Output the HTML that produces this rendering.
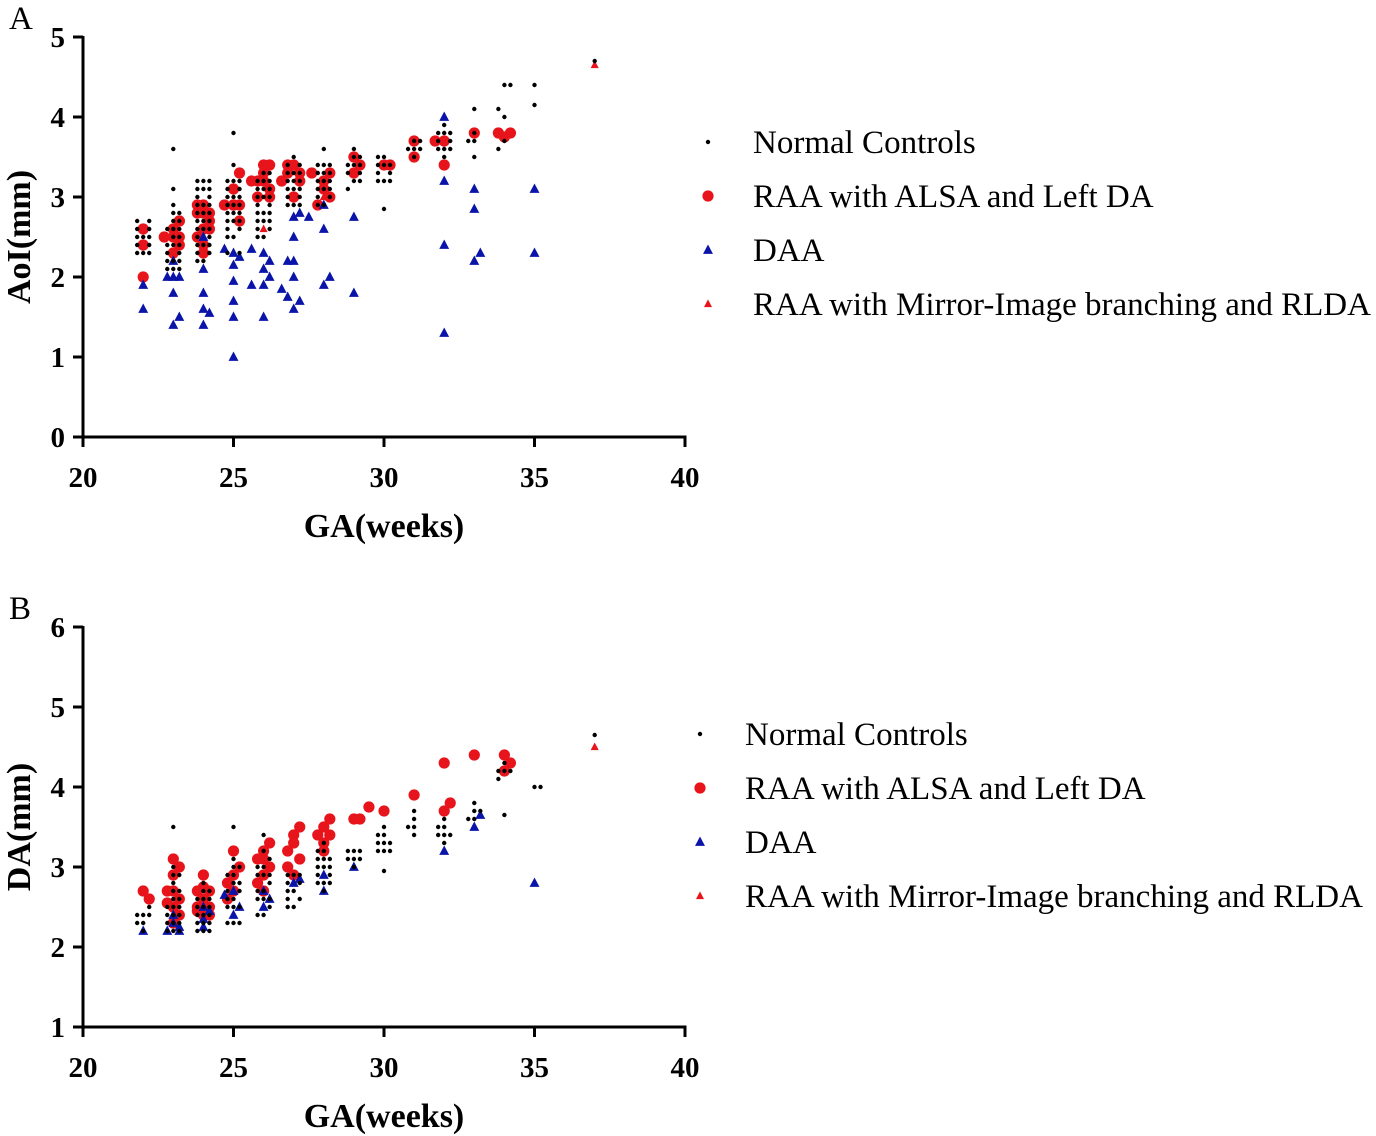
<!DOCTYPE html>
<html><head><meta charset="utf-8"><style>
html,body{margin:0;padding:0;background:#fff;}
svg{display:block;font-family:"Liberation Serif",serif;}
</style></head><body>
<svg id="chart" width="1376" height="1136" viewBox="0 0 1376 1136"></svg>
<script>
// ---------- data ----------
const xTicks=[20,25,30,35,40];
const aYTicks=[0,1,2,3,4,5];
const bYTicks=[1,2,3,4,5,6];
const legendLabels=["Normal Controls","RAA with ALSA and Left DA","DAA","RAA with Mirror-Image branching and RLDA"];
// Panel A
const aNormal=[[21.8,2.3],[22,2.3],[22.2,2.3],[21.8,2.4],[22.2,2.4],[21.8,2.5],[22,2.5],[22.2,2.5],[21.8,2.6],[22.2,2.6],[21.8,2.7],[22.2,2.7],
[22.8,2.2],[23,2.2],[23.2,2.2],[22.8,2.3],[23.2,2.3],[22.8,2.4],[23,2.4],[23.2,2.4],[23,2.5],[23.2,2.5],[22.8,2.6],[23,2.6],[23.2,2.6],[23,2.7],[23.2,2.7],[23,2.8],[23.2,2.8],[23,2.9],[23,3.1],[23,3.6],[23,2.1],[23.2,2.1],[22.8,2.1],
[23.8,2.2],[24,2.2],[23.8,2.3],[24.2,2.3],[23.8,2.4],[24,2.4],[24.2,2.4],[23.8,2.5],[24.2,2.5],[23.8,2.6],[24,2.6],[24.2,2.6],[23.8,2.7],[24,2.7],[24.2,2.7],[23.8,2.8],[24,2.8],[24.2,2.8],[23.8,2.9],[24,2.9],[24.2,2.9],[23.8,3.0],[24.2,3.0],[23.8,3.1],[24,3.1],[24.2,3.1],[23.8,3.2],[24,3.2],[24.2,3.2],
[24.8,2.3],[25.2,2.3],[24.8,2.5],[25,2.5],[24.8,2.6],[25.2,2.6],[24.8,2.7],[25,2.7],[25.2,2.7],[24.8,2.8],[25,2.8],[25.2,2.8],[24.8,2.9],[25,2.9],[25.2,2.9],[24.8,3.0],[25,3.0],[25.2,3.0],[24.8,3.1],[25.2,3.1],[24.8,3.2],[25,3.2],[25.2,3.2],[25,3.4],[25,3.8],
[25.8,2.5],[26,2.5],[25.8,2.6],[26.2,2.6],[25.8,2.7],[26,2.7],[26.2,2.7],[25.8,2.8],[26,2.8],[26.2,2.8],[25.8,2.9],[26.2,2.9],[26,3.0],[26.2,3.0],[25.8,3.0],[26,3.1],[26.2,3.1],[25.8,3.1],[26,3.2],[26.2,3.2],[25.8,3.2],[26,3.3],[26.2,3.3],
[26.8,2.9],[27,2.9],[27.2,2.9],[26.8,3.0],[27.2,3.0],[26.8,3.1],[27,3.1],[27.2,3.1],[26.8,3.2],[27,3.2],[27.2,3.2],[26.8,3.3],[27,3.3],[27.2,3.3],[26.8,3.4],[27.2,3.4],[27,3.5],
[27.8,2.9],[28,2.9],[27.8,3.0],[28.2,3.0],[27.8,3.1],[28,3.1],[28.2,3.1],[27.8,3.2],[28,3.2],[28.2,3.2],[27.8,3.3],[28,3.3],[28.2,3.3],[27.8,3.4],[28,3.4],[28.2,3.4],[28,3.6],
[28.8,3.1],[29,3.2],[29.2,3.2],[28.8,3.3],[29.2,3.3],[28.8,3.4],[29,3.4],[29.2,3.4],[29,3.5],[29.2,3.5],[29,3.6],
[29.8,3.2],[30,3.2],[30.2,3.2],[29.8,3.3],[30.2,3.3],[29.8,3.4],[30,3.4],[30.2,3.4],[29.8,3.5],[30,3.5],[30,2.85],
[30.8,3.6],[31,3.6],[31.2,3.6],[31,3.7],[31.2,3.7],[31,3.5],
[31.8,3.6],[32,3.6],[32.2,3.6],[31.8,3.7],[32.2,3.7],[31.8,3.8],[32,3.8],[32.2,3.8],[32,3.9],[32,3.5],
[32.8,3.7],[33,3.7],[33,3.8],[33,3.5],[33,4.1],[33.8,3.6],[34,3.7],[33.8,4.1],[34,4.4],[34.2,4.4],[34,4.0],[35,4.4],[35,4.15],[37,4.7]];
const aRaa=[[22,2.4],[22,2.6],[22,2.0],[22.7,2.5],[23,2.6],[23.2,2.7],[23,2.5],[23.2,2.4],[23,2.3],[23.2,2.5],[23.2,2.7],
[23.8,2.5],[24,2.6],[24.2,2.7],[23.8,2.8],[24,2.8],[24,2.9],[23.8,2.9],[24.2,2.8],[24,2.4],[24,2.3],[24.2,2.6],
[24.7,2.9],[25,2.9],[25.2,2.7],[25,3.1],[25.2,3.3],[25,2.9],[25.2,2.9],
[25.8,3.0],[26,3.2],[26.2,3.1],[25.8,3.2],[26.2,3.0],[25.6,3.2],[26,3.4],[26.2,3.4],[26,3.3],
[26.6,3.2],[26.8,3.3],[27,3.4],[27.2,3.3],[26.8,3.4],[27,3.0],[27.2,3.2],
[27.6,3.3],[28,3.2],[28.2,3.0],[27.8,2.9],[28,3.1],[28.2,3.3],
[29,3.3],[29.2,3.4],[29,3.5],[30,3.4],[30.2,3.4],[31,3.5],[31,3.7],[31.7,3.7],[32,3.4],[32,3.7],[33,3.8],[33.8,3.8],[34,3.75],[34.2,3.8]];
const aDaa=[[22,1.9],[22,1.6],[22.8,2.0],[23,2.0],[23.2,2.0],[23,2.2],[23,1.8],[23.2,1.5],[23,1.4],[24,2.1],[24,1.8],[24,1.6],[24.2,1.55],[24,1.4],[24,2.5],
[24.7,2.35],[25,2.3],[25.2,2.25],[25,2.15],[25,1.95],[25,1.7],[25,1.5],[25,1.0],[25.6,2.35],[26,2.3],[26.2,2.2],[26,2.1],[26.2,2.0],[26,1.9],[25.6,1.9],[26,1.5],
[26.8,2.2],[27,2.0],[27.2,2.8],[27,2.75],[27,2.5],[27,1.6],[26.8,1.75],[27.2,1.7],[27,2.2],[26.6,1.85],[27.5,2.75],[28,2.6],[28.2,2.0],[28,1.9],[28,2.9],[29,2.75],[29,1.8],[32,4.0],[32,3.2],[32,2.4],[32,1.3],[33,3.1],[33,2.85],[33,2.2],[33.2,2.3],[35,3.1],[35,2.3]];
const aMirror=[[26,2.6],[28,3.0],[37,4.65]];
// Panel B
const bNormal=[[21.8,2.3],[22,2.3],[22,2.4],[22.2,2.4],[21.8,2.4],[22.2,2.5],[22,2.2],
[22.8,2.2],[23,2.2],[23.2,2.2],[22.8,2.3],[23,2.3],[23.2,2.3],[22.8,2.4],[23,2.4],[23.2,2.4],[22.8,2.5],[23,2.5],[23.2,2.5],[23,2.6],[23.2,2.6],[23,2.7],[23.2,2.7],[23,2.8],[23,2.9],[23.2,2.9],[23,3.0],[23,3.5],
[23.8,2.2],[24,2.2],[24.2,2.2],[23.8,2.3],[24,2.3],[24.2,2.3],[23.8,2.4],[24,2.4],[24.2,2.4],[23.8,2.5],[24,2.5],[24.2,2.5],[23.8,2.6],[24,2.6],[24.2,2.6],[24,2.7],[24.2,2.7],[24,2.8],
[24.8,2.3],[25,2.3],[25.2,2.3],[24.8,2.5],[25,2.5],[25.2,2.5],[24.8,2.6],[25,2.6],[25.2,2.7],[24.8,2.7],[25,2.8],[25.2,2.8],[24.8,2.9],[25,2.9],[25,3.0],[25.2,3.0],[25,3.1],[25,3.5],
[25.8,2.4],[26,2.4],[26.2,2.5],[25.8,2.6],[26,2.6],[26.2,2.6],[25.8,2.7],[26,2.7],[26.2,2.8],[25.8,2.9],[26,2.9],[26.2,2.9],[26,3.0],[25.8,3.0],[26,3.2],[26.2,3.1],[26,3.4],
[26.8,2.5],[27,2.5],[26.8,2.6],[27.2,2.6],[26.8,2.7],[27,2.7],[27.2,2.8],[26.8,2.8],[27,2.9],[27.2,2.9],[26.8,2.9],
[27.8,2.8],[28,2.8],[28.2,2.8],[27.8,2.9],[28.2,2.9],[27.8,3.0],[28,3.0],[28.2,3.0],[27.8,3.1],[28,3.1],[28.2,3.1],[28,3.2],[27.8,3.2],[28,3.3],[28,2.7],
[28.8,3.1],[29,3.1],[29.2,3.1],[28.8,3.2],[29,3.2],[29.2,3.2],[29,3.0],
[29.8,3.2],[30,3.2],[30.2,3.2],[29.8,3.3],[30,3.3],[30.2,3.3],[29.8,3.4],[30,3.4],[30,3.5],[30,2.95],
[30.8,3.5],[31,3.5],[31,3.4],[31,3.6],[31,3.7],[31.8,3.4],[32,3.4],[32.2,3.4],[31.8,3.5],[32,3.5],[32,3.6],[32,3.3],
[32.8,3.6],[33,3.6],[33,3.7],[33,3.8],[33.2,3.7],[33.8,4.2],[34,4.2],[34.2,4.2],[33.8,4.1],[34,4.3],[34,3.65],[35,4.0],[35.2,4.0],[37,4.65]];
const bRaa=[[22,2.7],[22.2,2.6],[22.8,2.7],[23,3.1],[23,2.9],[23.2,3.0],[23,2.7],[23.2,2.6],[23,2.5],[22.8,2.55],[23.2,2.4],[23,2.3],
[24,2.9],[24,2.75],[23.8,2.7],[24.2,2.7],[24,2.6],[23.8,2.5],[24.2,2.5],[24,2.4],[24.2,2.4],[23.8,2.45],
[24.8,2.8],[25,2.9],[25.2,3.0],[25,3.2],[25,2.7],[24.8,2.6],[25.8,3.1],[26,3.2],[26.2,3.3],[26,3.1],[26.2,3.0],[26,2.9],[25.8,2.8],[26,2.7],
[26.8,3.2],[27,3.4],[27.2,3.5],[27,3.3],[26.8,3.0],[27,2.9],[27.2,3.1],[27.8,3.4],[28,3.5],[28.2,3.6],[28,3.3],[28.2,3.4],[28,3.2],
[29,3.6],[29.2,3.6],[29.5,3.75],[30,3.7],[31,3.9],[32,4.3],[32,3.7],[32.2,3.8],[33,4.4],[34,4.4],[34.2,4.3],[34,4.2]];
const bDaa=[[22,2.2],[23,2.4],[23,2.3],[23.2,2.25],[22.8,2.2],[23.2,2.2],[24,2.5],[24.2,2.45],[24,2.35],[24,2.25],
[24.7,2.65],[25,2.4],[25,2.7],[25.2,2.5],[26,2.7],[26.2,2.6],[26,2.5],[27,2.8],[27.2,2.85],[28,2.9],[28,2.7],[29,3.0],[32,3.2],[33,3.5],[33.2,3.65],[35,2.8]];
const bMirror=[[37,4.5]];

// ---------- drawing ----------
const NS="http://www.w3.org/2000/svg";
const svg=document.getElementById('chart');
function mk(tag,attrs,parent){const e=document.createElementNS(NS,tag);for(const k in attrs)e.setAttribute(k,attrs[k]);(parent||svg).appendChild(e);return e;}
const X0=83,X1=685;
function xs(v){return X0+(v-20)/(40-20)*(X1-X0);}
function makeY(yBot,vmin,vmax){return v=>yBot-(v-vmin)/(vmax-vmin)*400;}

function drawMarker(g,type,cx,cy){
  let e;
  if(type==='n'){e=mk('circle',{cx:cx,cy:cy,r:2.2,fill:'#000'},g);}
  else if(type==='r'){e=mk('circle',{cx:cx,cy:cy,r:5.6,fill:'#e8141b'},g);}
  else {const s=type==='d'?5.5:4.5;
    e=mk('polygon',{points:`${cx},${cy-s} ${cx-s*0.9},${cy+s*0.7} ${cx+s*0.9},${cy+s*0.7}`,fill:type==='d'?'#0a14a8':'#e8141b'},g);}
  return e;
}

function panel(id,letter,yBot,yTicks,yLabel,series,legX,legY){
  const ys=makeY(yBot,yTicks[0],yTicks[yTicks.length-1]);
  const g=mk('g',{});
  
  
  const t=mk('text',{x:9,y:yBot-408,'font-size':33},g);t.textContent=letter;
  
  const ax=mk('g',{stroke:'#000','stroke-width':3,fill:'none'},g);
  
  mk('line',{x1:X0,y1:yBot-401,x2:X0,y2:yBot+1.5},ax);
  mk('line',{x1:X0-1.5,y1:yBot,x2:X1+1.5,y2:yBot},ax);
  yTicks.forEach(v=>{
    mk('line',{x1:X0-10,y1:ys(v),x2:X0,y2:ys(v)},ax);
    const tl=mk('text',{x:X0-18,y:ys(v)+10,'font-size':29,'font-weight':'bold','text-anchor':'end'},g);
    tl.textContent=v;
    
  });
  xTicks.forEach(v=>{
    mk('line',{x1:xs(v),y1:yBot,x2:xs(v),y2:yBot+10},ax);
    const tl=mk('text',{x:xs(v),y:yBot+50,'font-size':29,'font-weight':'bold','text-anchor':'middle'},g);
    tl.textContent=v;
    
  });
  const xt=mk('text',{x:384,y:yBot+100,'font-size':34,'font-weight':'bold','text-anchor':'middle'},g);
  xt.textContent='GA(weeks)';
  
  const yt=mk('text',{x:0,y:0,'font-size':34,'font-weight':'bold','text-anchor':'middle',transform:`translate(30,${yBot-200}) rotate(-90)`},g);
  yt.textContent=yLabel;
  
  const types=['n','r','d','m'];
  [1,2,3,0].forEach(si=>{
    const sg=mk('g',{},g);
    
    series[si].forEach(p=>{
      const m=drawMarker(sg,types[si],xs(p[0]),ys(p[1]));
      
      
    });
  });
  legendLabels.forEach((lab,i)=>{
    const lg=mk('g',{},g);
    
    drawMarker(lg,types[i],legX,legY+i*54);
    const lt=mk('text',{x:legX+45,y:legY+i*54+11,'font-size':33},lg);
    lt.textContent=lab;
  });
}
panel('a','A',437,aYTicks,'AoI(mm)',[aNormal,aRaa,aDaa,aMirror],708,142);
panel('b','B',1027,bYTicks,'DA(mm)',[bNormal,bRaa,bDaa,bMirror],700,734);
</script>
</body></html>
